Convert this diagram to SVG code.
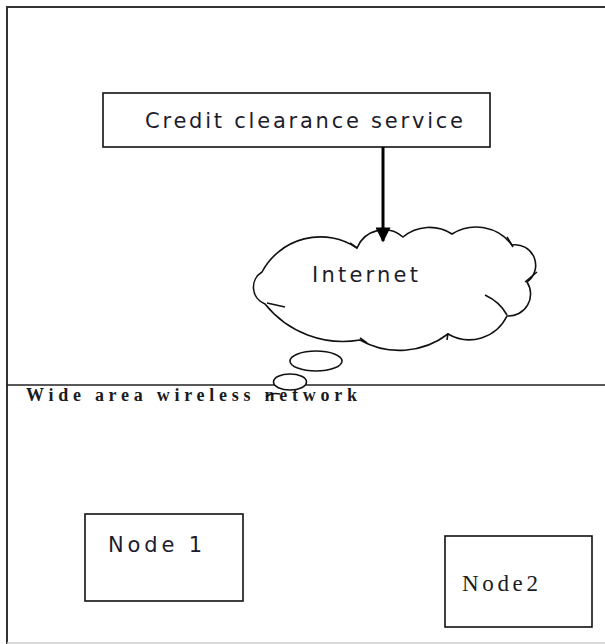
<svg xmlns="http://www.w3.org/2000/svg" width="605" height="644" viewBox="0 0 605 644">
<defs>
<style>
.ln{stroke:#111;stroke-width:1.6;fill:none}
.box{stroke:#111;stroke-width:1.6;fill:#fff}
.sans{font-family:"DejaVu Sans","Liberation Sans",sans-serif;fill:#1c1c2c}
.serif{font-family:"Liberation Serif","DejaVu Serif",serif;fill:#1c1c1c}
</style>
<marker id="ah" viewBox="0 0 10 10" refX="9" refY="5" markerWidth="6" markerHeight="5" markerUnits="strokeWidth" orient="auto">
<path d="M0,0 L10,5 L0,10 z" fill="#000"/>
</marker>
</defs>
<rect width="605" height="644" fill="#fff"/>
<g id="frame">
<path d="M7,644 L7,7 L605,7" stroke="#333" stroke-width="2" fill="none"/>
<line x1="7" y1="385" x2="605" y2="385" stroke="#222" stroke-width="1.6"/>
<line x1="7" y1="643" x2="605" y2="643" stroke="#ccc" stroke-width="1.5"/>
<text class="serif" x="26" y="401" font-size="18" font-weight="bold" textLength="331" lengthAdjust="spacing">Wide area wireless network</text>
</g>
<g id="credit">
<rect class="box" x="103" y="93" width="387" height="54"/>
<text class="sans" x="145" y="128" font-size="21" textLength="318" lengthAdjust="spacing">Credit clearance service</text>
</g>
<g id="internet">
<path class="box" stroke-width="1.4" d="M262,272 A66,66 0 0 1 357,248 A29,29 0 0 1 403,237 A41.5,41.5 0 0 1 452,234 A45,45 0 0 1 512,245 A20.5,20.5 0 0 1 527,282 A22,22 0 0 1 507,316 A42,42 0 0 1 448,334 A80,80 0 0 1 360,340 A100,100 0 0 1 265,304 A17.9,17.9 0 0 1 262,272 Z"/>
<path class="ln" stroke-width="1.2" d="M267,303 L285,307 M525,282 L537,272 M485,295 Q500,302 507,315 M350,243 L357,248 M507,237 L513,247 M360,338 L367,343 M448,333 L447,340"/>
<text class="sans" x="312" y="282" font-size="21" textLength="106" lengthAdjust="spacing">Internet</text>
<ellipse class="box" stroke-width="1.4" cx="316" cy="361" rx="26" ry="10"/>
<ellipse class="box" stroke-width="1.4" cx="290" cy="382" rx="16.5" ry="8"/>
<path class="ln" stroke-width="1.2" d="M266,397 Q272,392 280,394"/>
</g>
<g id="connectors">
<line x1="383" y1="147" x2="383" y2="241" stroke="#000" stroke-width="3" marker-end="url(#ah)"/>
</g>
<g id="node1">
<rect class="box" x="85" y="514" width="158" height="87"/>
<text class="sans" x="108" y="552" font-size="21" textLength="94" lengthAdjust="spacing">Node 1</text>
</g>
<g id="node2">
<rect class="box" x="445" y="536" width="147" height="91"/>
<text class="serif" x="462" y="591" font-size="23" textLength="76" lengthAdjust="spacing">Node2</text>
</g>
</svg>
